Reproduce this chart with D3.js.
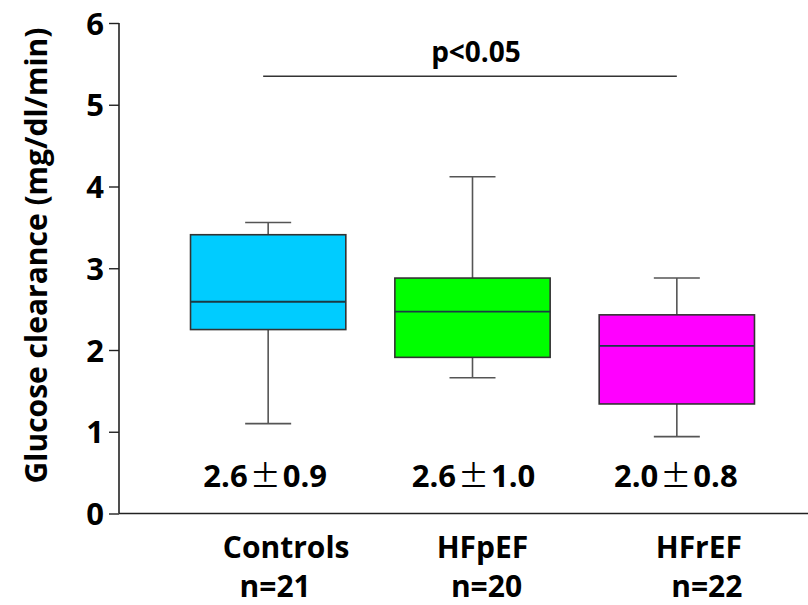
<!DOCTYPE html>
<html>
<head>
<meta charset="utf-8">
<script src="https://cdn.jsdelivr.net/npm/d3@7/dist/d3.min.js"></script>
<style>
  html, body { margin: 0; padding: 0; background: #fff; }
  svg { display: block; }
  text { font-family: "Open Sans", "Noto Sans", sans-serif; font-weight: bold; fill: #000; }
</style>
</head>
<body>
<svg id="chart" width="808" height="605"></svg>
<script>
// Glucose clearance by group (mg/dl/min)
const groups    = ["Controls", "HFpEF", "HFrEF"];
const groupN    = ["n=21", "n=20", "n=22"];
const whiskLow  = [1.10, 1.66, 0.94];
const q1        = [2.25, 1.91, 1.34];
const median    = [2.59, 2.47, 2.05];
const q3        = [3.41, 2.88, 2.43];
const whiskHigh = [3.56, 4.12, 2.88];
const meanSd    = [["2.6", "0.9"], ["2.6", "1.0"], ["2.0", "0.8"]];
const fills     = ["#00CCFF", "#00FF00", "#FF00FF"];
const yTicks    = [0, 1, 2, 3, 4, 5, 6];
const yTitle    = "Glucose clearance (mg/dl/min)";
const pLabel    = "p<0.05";

const svg = d3.select("#chart");

const y = d3.scaleLinear().domain([0, 6]).range([513.5, 23]);
const x = d3.scaleBand().domain(groups).range([166, 779])
  .paddingInner(0.24).paddingOuter(0.12);

const boxes = groups.map((g, i) => ({
  g, n: groupN[i], lo: whiskLow[i], q1: q1[i], med: median[i],
  q3: q3[i], hi: whiskHigh[i], ms: meanSd[i], fill: fills[i]
}));

// y axis
const yAxis = d3.axisLeft(y).tickValues(yTicks).tickSize(10).tickPadding(5)
  .tickFormat(d3.format("d"));
const gy = svg.append("g").attr("transform", "translate(119,0)").call(yAxis);
gy.select(".domain").attr("stroke", "#222").attr("stroke-width", 1.6)
  .attr("d", `M0,${y(6)}V${y(0)}`);
gy.selectAll(".tick line").attr("stroke", "#222").attr("stroke-width", 1.4);
gy.selectAll(".tick text").attr("font-size", 31).attr("fill", "#000")
  .style("font-family", "'Open Sans', sans-serif").style("font-weight", "bold")
  .attr("dy", "0.36em");

// x baseline
svg.append("line")
  .attr("x1", 119).attr("x2", 808).attr("y1", y(0)).attr("y2", y(0))
  .attr("stroke", "#222").attr("stroke-width", 1.6);

// y title
svg.append("text")
  .attr("transform", `translate(47,${255.5}) rotate(-90)`)
  .attr("text-anchor", "middle")
  .attr("font-size", 30)
  .text(yTitle);

// boxes
const bw = x.bandwidth();
const capW = 46;
const bg = svg.append("g").selectAll("g").data(boxes).join("g")
  .attr("transform", d => `translate(${x(d.g) + bw / 2},0)`);

bg.append("line").attr("x1", 0).attr("x2", 0)
  .attr("y1", d => y(d.hi)).attr("y2", d => y(d.q3))
  .attr("stroke", "#555").attr("stroke-width", 1.6);
bg.append("line").attr("x1", 0).attr("x2", 0)
  .attr("y1", d => y(d.q1)).attr("y2", d => y(d.lo))
  .attr("stroke", "#555").attr("stroke-width", 1.6);
bg.append("line").attr("x1", -capW / 2).attr("x2", capW / 2)
  .attr("y1", d => y(d.hi)).attr("y2", d => y(d.hi))
  .attr("stroke", "#555").attr("stroke-width", 1.6);
bg.append("line").attr("x1", -capW / 2).attr("x2", capW / 2)
  .attr("y1", d => y(d.lo)).attr("y2", d => y(d.lo))
  .attr("stroke", "#555").attr("stroke-width", 1.6);
bg.append("rect")
  .attr("x", -bw / 2).attr("width", bw)
  .attr("y", d => y(d.q3)).attr("height", d => y(d.q1) - y(d.q3))
  .attr("fill", d => d.fill).attr("stroke", "#333").attr("stroke-width", 1.6);
bg.append("line").attr("x1", -bw / 2).attr("x2", bw / 2)
  .attr("y1", d => y(d.med)).attr("y2", d => y(d.med))
  .attr("stroke", "#1a3a44").attr("stroke-width", 1.8);

// mean ± SD labels under each box
const statShift = [-3, 1, -1];
const st = svg.append("g").selectAll("text").data(boxes).join("text")
  .attr("x", (d, i) => x(d.g) + bw / 2 + statShift[i])
  .attr("y", 487)
  .attr("text-anchor", "middle")
  .attr("font-size", 31);
st.append("tspan").text(d => d.ms[0]);
st.append("tspan").attr("dx", 2).style("font-family", "'Noto Sans CJK JP', sans-serif")
  .style("font-weight", "normal").text("±");
st.append("tspan").attr("dx", 2).text(d => d.ms[1]);

// category labels and group sizes
const labShift = [18, 10, 22];
const nShift = [7, 14, 30];
svg.append("g").selectAll("text").data(boxes).join("text")
  .attr("x", (d, i) => x(d.g) + bw / 2 + labShift[i])
  .attr("y", 558).attr("text-anchor", "middle").attr("font-size", 30)
  .text(d => d.g);
svg.append("g").selectAll("text").data(boxes).join("text")
  .attr("x", (d, i) => x(d.g) + bw / 2 + nShift[i])
  .attr("y", 597).attr("text-anchor", "middle").attr("font-size", 30)
  .text(d => d.n);

// significance bar between Controls and HFrEF
const x1 = x(groups[0]) + bw / 2 - 5, x2 = x(groups[2]) + bw / 2;
svg.append("line").attr("x1", x1).attr("x2", x2)
  .attr("y1", 76.3).attr("y2", 76.3)
  .attr("stroke", "#333").attr("stroke-width", 1.4);
svg.append("text").attr("x", 476).attr("y", 62)
  .attr("text-anchor", "middle").attr("font-size", 28).text(pLabel);
</script>
</body>
</html>
